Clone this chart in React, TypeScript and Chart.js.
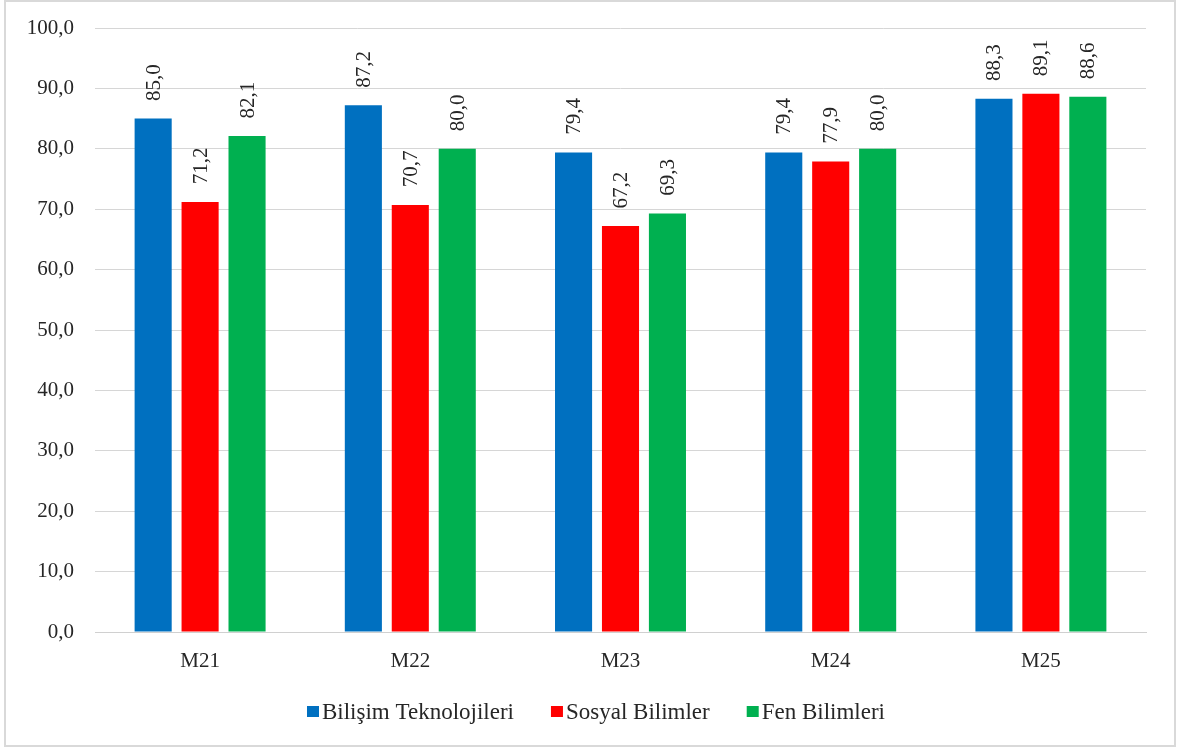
import React, { useEffect, useRef } from "react";
import { Chart, registerables } from "chart.js";

Chart.register(...registerables);

const categories = ["M21", "M22", "M23", "M24", "M25"];
const seriesNames = ["Bilişim Teknolojileri", "Sosyal Bilimler", "Fen Bilimleri"];
const bilisim = [85.0, 87.2, 79.4, 79.4, 88.3];
const sosyal = [71.2, 70.7, 67.2, 77.9, 89.1];
const fen = [82.1, 80.0, 69.3, 80.0, 88.6];
const seriesColors = ["#0070C0", "#FF0000", "#00B050"];

const FONT = "'Liberation Serif', 'Times New Roman', serif";
const TEXT = "#262626";

const fmt = (v: number) => v.toFixed(1).replace(".", ",");

const dataLabelPlugin = {
  id: "rotLabels",
  afterDatasetsDraw(chart: any) {
    const ctx = chart.ctx;
    ctx.save();
    ctx.font = `21px ${FONT}`;
    ctx.fillStyle = TEXT;
    ctx.textAlign = "center";
    ctx.textBaseline = "middle";
    chart.data.datasets.forEach((ds: any, i: number) => {
      const meta = chart.getDatasetMeta(i);
      meta.data.forEach((el: any, j: number) => {
        const v = ds.data[j];
        ctx.save();
        ctx.translate(el.x + 1, el.y - 36);
        ctx.rotate(-Math.PI / 2);
        ctx.fillText(fmt(v), 0, 0);
        ctx.restore();
      });
    });
    ctx.restore();
  },
};

const legendPlugin = {
  id: "customLegend",
  afterDraw(chart: any) {
    const ctx = chart.ctx;
    ctx.save();
    ctx.font = `23px ${FONT}`;
    ctx.textBaseline = "middle";
    ctx.textAlign = "left";
    const box = 12;
    const gapBox = 3;
    const gapItem = 37;
    const items = chart.data.datasets.map((ds: any) => ({
      label: ds.label,
      color: ds.backgroundColor,
      w: ctx.measureText(ds.label).width,
    }));
    const total =
      items.reduce((s: number, it: any) => s + box + gapBox + it.w, 0) +
      gapItem * (items.length - 1);
    let x = chart.width / 2 + 6 - total / 2;
    const y = chart.height - 33;
    items.forEach((it: any) => {
      ctx.fillStyle = it.color;
      ctx.fillRect(x, y - box / 2, box, box - 1);
      x += box + gapBox;
      ctx.fillStyle = TEXT;
      ctx.fillText(it.label, x, y + 1);
      x += it.w + gapItem;
    });
    ctx.restore();
  },
};

export default function App() {
  const ref = useRef<HTMLCanvasElement | null>(null);
  useEffect(() => {
    if (!ref.current) return;
    const seriesData = [bilisim, sosyal, fen];
    const chart = new Chart(ref.current, {
      type: "bar",
      data: {
        labels: categories,
        datasets: seriesNames.map((name, i) => ({
          label: name,
          data: seriesData[i],
          backgroundColor: seriesColors[i],
          borderWidth: 0,
          categoryPercentage: 0.67,
          barPercentage: 0.79,
        })),
      },
      options: {
        animation: false,
        responsive: true,
        maintainAspectRatio: false,
        layout: { padding: { top: 26, right: 28, bottom: 73, left: 0 } },
        plugins: {
          legend: { display: false },
          tooltip: { enabled: false },
        },
        scales: {
          x: {
            grid: { display: false, drawTicks: false },
            border: { display: true, color: "#d0d0d0", width: 1 },
            ticks: {
              padding: 17,
              color: TEXT,
              font: { family: FONT, size: 21 },
            },
            afterFit: (s: any) => {
              s.height = 40;
            },
          },
          y: {
            min: 0,
            max: 100,
            grid: { color: "#d6d6d6", lineWidth: 1, drawTicks: false },
            border: { display: false },
            ticks: {
              stepSize: 10,
              padding: 21,
              color: TEXT,
              font: { family: FONT, size: 21 },
              callback: (v: any) => fmt(Number(v)),
            },
            afterFit: (s: any) => {
              s.width = 89;
              s.paddingTop = 0;
              s.paddingBottom = 0;
            },
          },
        },
      },
      plugins: [dataLabelPlugin, legendPlugin],
    });
    return () => chart.destroy();
  }, []);
  return (
    <div
      style={{
        position: "absolute",
        left: 4,
        top: 0,
        width: 1172,
        height: 747,
        border: "2px solid #d9d9d9",
        boxSizing: "border-box",
        background: "#fff",
      }}
    >
      <div style={{ position: "relative", width: "100%", height: "100%" }}>
        <canvas ref={ref} />
      </div>
    </div>
  );
}
